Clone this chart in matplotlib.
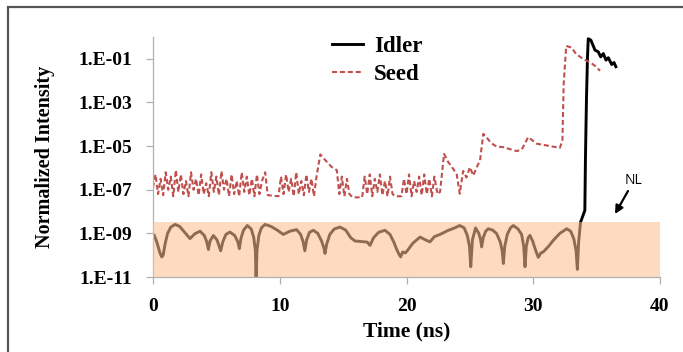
import matplotlib
matplotlib.use("Agg")
import matplotlib.pyplot as plt
from matplotlib.patches import Rectangle
from matplotlib.ticker import FixedLocator, FuncFormatter, NullLocator
import numpy as np

# Idler (log10 of normalized intensity) vs time in ns
idler_t = [0.1, 0.3, 0.55, 0.69, 0.8, 0.95, 1.15, 1.4, 1.74, 2.1, 2.5, 2.92, 3.3, 3.71,
           4.05, 4.25, 4.37, 4.5, 4.76, 5.05, 5.34, 5.5, 5.75, 6.07, 6.45, 6.7, 6.81,
           6.95, 7.15, 7.44, 7.75, 7.95, 8.08, 8.13, 8.2, 8.35, 8.55, 8.84, 9.3, 9.8,
           10.28, 10.8, 11.33, 11.65, 11.85, 11.98, 12.12, 12.35, 12.65, 13.0, 13.3,
           13.5, 13.57, 13.7, 13.95, 14.3, 14.75, 15.2, 15.6, 15.94, 16.3, 16.59, 16.9,
           17.12, 17.4, 17.8, 18.3, 18.7, 19.0, 19.2, 19.4, 19.54, 19.7, 19.9, 20.07,
           20.5, 21.07, 21.5, 21.85, 22.2, 22.64, 23.3, 23.8, 24.2, 24.55, 24.8, 24.97,
           25.07, 25.2, 25.45, 25.7, 25.85, 25.93, 26.05, 26.25, 26.45, 26.8, 27.11,
           27.4, 27.55, 27.64, 27.75, 27.95, 28.2, 28.43, 28.8, 29.08, 29.25, 29.35,
           29.45, 29.6, 29.74, 29.95, 30.2, 30.4, 30.6, 30.79, 31.2, 31.58, 32.1, 32.64,
           32.95, 33.2, 33.38, 33.48, 33.58, 33.73, 34.07, 34.12, 34.2, 34.28, 34.34,
           34.55, 34.87, 35.13, 35.32, 35.53, 35.74, 35.92, 36.19, 36.37, 36.52]
idler_log = [-9.09, -9.4, -9.9, -10.08, -10.0, -9.5, -9.0, -8.72, -8.59, -8.68, -8.95,
             -9.24, -9.02, -8.9, -9.1, -9.4, -9.74, -9.35, -9.1, -9.3, -9.8, -9.4, -9.05,
             -8.94, -9.1, -9.4, -9.7, -9.2, -8.85, -8.64, -8.8, -9.2, -9.8, -11.3, -9.8,
             -9.1, -8.75, -8.59, -8.68, -8.85, -9.05, -8.9, -8.83, -9.05, -9.4, -9.8,
             -9.3, -8.95, -8.86, -9.0, -9.35, -9.7, -9.92, -9.5, -9.05, -8.8, -8.71,
             -8.85, -9.2, -9.35, -9.37, -9.39, -9.4, -9.55, -9.2, -8.95, -8.86, -9.05,
             -9.4, -9.7, -9.95, -10.08, -9.85, -9.9, -9.79, -9.45, -9.17, -9.3, -9.39,
             -9.15, -9.05, -8.86, -8.75, -8.64, -8.75, -9.1, -9.6, -10.53, -9.3, -8.75,
             -9.0, -9.3, -9.62, -9.2, -8.9, -8.79, -8.85, -9.01, -9.4, -9.8, -10.38,
             -9.6, -9.05, -8.75, -8.64, -8.8, -9.05, -9.6, -10.53, -9.6, -9.2, -9.09,
             -9.35, -9.8, -10.1, -9.9, -9.85, -9.6, -9.32, -9.0, -8.79, -8.9, -9.25,
             -9.8, -10.65, -9.4, -8.49, -7.95, -5.5, -2.8, -0.9, -0.08, -0.15, -0.6,
             -0.68, -0.91, -0.76, -1.06, -0.95, -1.26, -1.17, -1.36]

# Seed (log10 of normalized intensity) vs time in ns
seed_t = [0.0, 0.2, 0.4, 0.6, 0.8, 1.0, 1.2, 1.4, 1.6, 1.8, 2.0, 2.2, 2.4, 2.6, 2.8, 3.0,
          3.2, 3.4, 3.6, 3.8, 4.0, 4.2, 4.4, 4.6, 4.8, 5.0, 5.2, 5.4, 5.6, 5.8, 6.0, 6.2,
          6.4, 6.6, 6.8, 7.0, 7.2, 7.4, 7.6, 7.8, 8.0, 8.2, 8.4, 8.6, 8.85, 9.05, 9.9,
          10.1, 10.3, 10.5, 10.7, 10.9, 11.1, 11.3, 11.5, 11.7, 11.9, 12.1, 12.3, 12.5,
          12.7, 12.9, 13.2, 13.6, 14.1, 14.5, 14.7, 14.9, 15.1, 15.3, 15.5, 15.75, 16.5,
          16.7, 16.9, 17.1, 17.3, 17.5, 17.7, 17.9, 18.1, 18.3, 18.5, 18.7, 18.9, 19.15,
          19.6, 19.8, 20.0, 20.2, 20.4, 20.6, 20.8, 21.0, 21.2, 21.4, 21.6, 21.8, 22.0,
          22.2, 22.45, 22.65, 22.96, 23.3, 23.7, 23.96, 24.2, 24.47, 24.73, 25.0, 25.27,
          25.54, 25.8, 26.06, 26.3, 26.7, 27.1, 27.64, 28.7, 29.1, 29.6, 30.27, 31.05,
          32.1, 32.3, 32.4, 32.6, 33.0, 33.4, 33.95, 34.5, 34.87, 35.27]
seed_log = [-6.9, -6.3, -7.2, -6.5, -7.25, -6.2, -7.0, -6.4, -7.3, -6.1, -7.1, -6.3, -7.2,
            -6.6, -7.3, -6.2, -7.0, -6.5, -7.25, -6.3, -7.2, -6.7, -7.3, -6.2, -7.1, -6.4,
            -7.25, -6.15, -7.0, -6.5, -7.3, -6.3, -7.2, -6.6, -7.3, -6.2, -7.1, -6.4, -7.25,
            -6.5, -7.3, -6.3, -7.2, -6.6, -6.2, -7.25, -7.3, -6.4, -7.2, -6.3, -7.1, -6.5,
            -7.3, -6.2, -7.2, -6.6, -7.25, -6.3, -7.1, -6.5, -7.3, -6.4, -5.38, -5.65,
            -5.96, -6.1, -7.2, -6.4, -7.3, -6.5, -7.2, -7.35, -7.35, -6.4, -7.2, -6.3,
            -7.3, -6.5, -7.1, -6.3, -7.25, -6.6, -7.3, -6.4, -7.2, -7.3, -7.3, -6.5,
            -7.2, -6.3, -7.3, -6.6, -7.1, -6.4, -7.25, -6.3, -7.2, -6.5, -7.3, -6.4,
            -7.2, -7.1, -5.36, -5.74, -6.06, -6.29, -7.18, -6.14, -6.44, -5.97, -6.35,
            -5.97, -5.66, -4.44, -4.59, -4.87, -5.02, -5.05, -5.23, -5.15, -4.59, -4.89,
            -4.97, -5.08, -4.75, -2.16, -0.41, -0.48, -0.79, -1.01, -1.17, -1.32, -1.55]

# shaded "NL" band
band_t = [0, 40]
band_top = 3.4e-9

W, H = 683, 352
serif = "Liberation Serif"

fig = plt.figure(figsize=(W / 100, H / 100), dpi=100)
ax = fig.add_axes([153 / W, 1 - 277 / H, (660 - 153) / W, (277 - 37) / H])

ax.plot(idler_t, 10.0 ** np.array(idler_log), color="black", lw=2.1,
        label="Idler", zorder=2, solid_joinstyle="round")
ax.plot(seed_t, 10.0 ** np.array(seed_log), color="#C0504D", lw=1.5,
        dashes=(2.4, 1.4), label="Seed", zorder=2)
ax.add_patch(Rectangle((band_t[0], 1e-11), band_t[1] - band_t[0], band_top - 1e-11,
                       facecolor="#FAC090", edgecolor="none", alpha=0.57, zorder=3))

ax.set_yscale("log")
ax.set_xlim(0, 40)
ax.set_ylim(1e-11, 1)
ax.xaxis.set_major_locator(FixedLocator([0, 10, 20, 30, 40]))
ax.yaxis.set_major_locator(FixedLocator([1e-11, 1e-9, 1e-7, 1e-5, 1e-3, 1e-1]))
ax.yaxis.set_minor_locator(NullLocator())
ax.yaxis.set_major_formatter(
    FuncFormatter(lambda v, _: f"1.E{int(round(np.log10(v))):+03d}"))

for s in ("top", "right"):
    ax.spines[s].set_visible(False)
for s in ("left", "bottom"):
    ax.spines[s].set_color("#b0b0b0")
    ax.spines[s].set_linewidth(0.9)
ax.tick_params(colors="#b0b0b0", labelcolor="black", length=5, width=0.9, pad=10)
for lab in ax.get_xticklabels() + ax.get_yticklabels():
    lab.set_fontfamily(serif)
    lab.set_fontweight("bold")
    lab.set_fontsize(14)

ax.set_xlabel("Time (ns)", fontfamily=serif, fontweight="bold", fontsize=15.5)
ax.set_ylabel("Normalized Intensity", fontfamily=serif, fontweight="bold", fontsize=14.5)
ax.xaxis.set_label_coords(0.5, (277 - 321) / 240)
ax.yaxis.set_label_coords((55 - 153) / 507, 0.5)

leg = ax.legend(loc="upper left", bbox_to_anchor=(321 / W, 1 - 25 / H),
                bbox_transform=fig.transFigure, frameon=False, borderpad=0,
                handlelength=1.35, handletextpad=0.45, labelspacing=0.3,
                prop={"family": serif, "weight": "bold", "size": 16.5})

# NL label with arrow pointing at the band
fig.text(633 / W, 1 - 180 / H, "NL", ha="center", va="center", fontsize=10,
         fontfamily="Open Sans")
ax.annotate("", xy=(615 / W, 1 - 214 / H), xycoords="figure fraction",
            xytext=(628 / W, 1 - 191 / H), textcoords="figure fraction",
            arrowprops=dict(arrowstyle="-|>", color="black", lw=1.6,
                            mutation_scale=12, shrinkA=0, shrinkB=0))

# outer frame around the picture
fig.add_artist(Rectangle((8 / W, -0.1), 1.2, 1.1 - 7 / H, transform=fig.transFigure,
                         fill=False, edgecolor="#555555", lw=1.6))

fig.savefig("out.png", dpi=100)
